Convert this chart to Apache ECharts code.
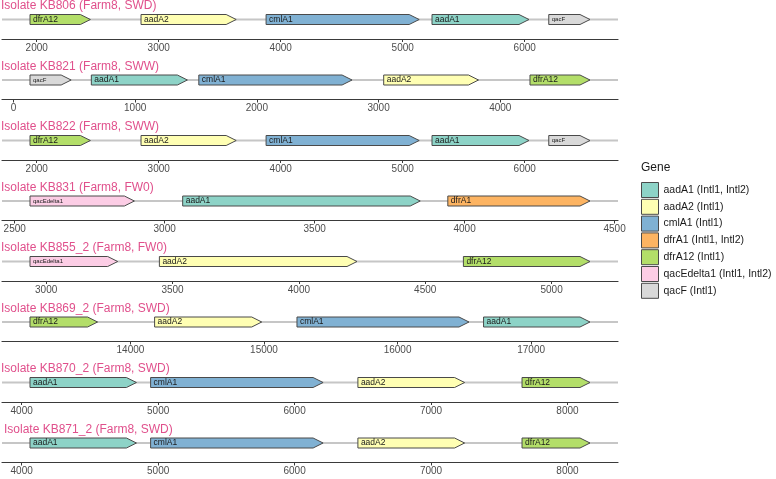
<!DOCTYPE html>
<html>
<head>
<meta charset="utf-8">
<script src="https://cdn.jsdelivr.net/npm/echarts@6/dist/echarts.min.js"></script>
<style>
  html, body { margin: 0; padding: 0; background: #fff; }
  #chart { width: 776px; height: 479px; }
</style>
</head>
<body>
<div id="chart"></div>
<script>
// legend order and labels
const geneOrder = ["aadA1", "aadA2", "cmlA1", "dfrA1", "dfrA12", "qacEdelta1", "qacF"];
const legendLabels = ["aadA1 (Intl1, Intl2)", "aadA2 (Intl1)", "cmlA1 (Intl1)", "dfrA1 (Intl1, Intl2)",
  "dfrA12 (Intl1)", "qacEdelta1 (Intl1, Intl2)", "qacF (Intl1)"];

const isolateTitles = [
  "Isolate KB806 (Farm8, SWD)", "Isolate KB821 (Farm8, SWW)", "Isolate KB822 (Farm8, SWW)",
  "Isolate KB831 (Farm8, FW0)", "Isolate KB855_2 (Farm8, FW0)", "Isolate KB869_2 (Farm8, SWD)",
  "Isolate KB870_2 (Farm8, SWD)", "Isolate KB871_2 (Farm8, SWD)"
];

// genes per isolate: name, start, end (bp)
const kb806Genes = ["dfrA12", "aadA2", "cmlA1", "aadA1", "qacF"];
const kb806Start = [1945, 2855, 3880, 5240, 6197];
const kb806End = [2440, 3635, 5135, 6035, 6535];

const kb821Genes = ["qacF", "aadA1", "cmlA1", "aadA2", "dfrA12"];
const kb821Start = [136, 640, 1523, 3042, 4244];
const kb821End = [474, 1429, 2782, 3821, 4737];

const kb822Genes = ["dfrA12", "aadA2", "cmlA1", "aadA1", "qacF"];
const kb822Start = [1945, 2855, 3880, 5240, 6197];
const kb822End = [2440, 3635, 5135, 6035, 6535];

const kb831Genes = ["qacEdelta1", "aadA1", "dfrA1"];
const kb831Start = [2551, 3060, 3944];
const kb831End = [2899, 3852, 4418];

const kb855Genes = ["qacEdelta1", "aadA2", "dfrA12"];
const kb855Start = [2936, 3448, 4651];
const kb855End = [3283, 4230, 5152];

const kb869Genes = ["dfrA12", "aadA2", "cmlA1", "aadA1"];
const kb869Start = [13248, 14181, 15247, 16644];
const kb869End = [13754, 14983, 16535, 17441];

const kb870Genes = ["aadA1", "cmlA1", "aadA2", "dfrA12"];
const kb870Start = [4061, 4945, 6464, 7667];
const kb870End = [4841, 6209, 7246, 8165];

const kb871Genes = ["aadA1", "cmlA1", "aadA2", "dfrA12"];
const kb871Start = [4061, 4945, 6464, 7667];
const kb871End = [4841, 6209, 7246, 8165];

// x tick labels per panel
const ticks806 = [2000, 3000, 4000, 5000, 6000];
const ticks821 = [0, 1000, 2000, 3000, 4000];
const ticks822 = [2000, 3000, 4000, 5000, 6000];
const ticks831 = [2500, 3000, 3500, 4000, 4500];
const ticks855 = [3000, 3500, 4000, 4500, 5000];
const ticks869 = [14000, 15000, 16000, 17000];
const ticks870 = [4000, 5000, 6000, 7000, 8000];
const ticks871 = [4000, 5000, 6000, 7000, 8000];

const panels = [
  [kb806Genes, kb806Start, kb806End, ticks806],
  [kb821Genes, kb821Start, kb821End, ticks821],
  [kb822Genes, kb822Start, kb822End, ticks822],
  [kb831Genes, kb831Start, kb831End, ticks831],
  [kb855Genes, kb855Start, kb855End, ticks855],
  [kb869Genes, kb869Start, kb869End, ticks869],
  [kb870Genes, kb870Start, kb870End, ticks870],
  [kb871Genes, kb871Start, kb871End, ticks871]
];

const geneColors = {
  aadA1: "#8DD3C7", aadA2: "#FFFFB3", cmlA1: "#80B1D3", dfrA1: "#FDB462",
  dfrA12: "#B3DE69", qacEdelta1: "#FCCDE5", qacF: "#D9D9D9"
};
const smallLabel = { qacEdelta1: true, qacF: true };
const FONT = "'Liberation Sans', Arial, sans-serif";
const STEP = 60.5;

function renderGene(params, api) {
  const s = api.coord([api.value(0), 0]);
  const e = api.coord([api.value(1), 0]);
  const name = geneOrder[api.value(2)];
  const h = 10;
  const head = Math.min(10, e[0] - s[0]);
  const y = s[1];
  return {
    type: "group",
    children: [
      {
        type: "polygon",
        shape: { points: [[s[0], y - h / 2], [e[0] - head, y - h / 2], [e[0], y], [e[0] - head, y + h / 2], [s[0], y + h / 2]] },
        style: { fill: geneColors[name], stroke: "#4a4a4a", lineWidth: 1 }
      },
      {
        type: "text",
        x: s[0] + 3,
        y: y,
        style: {
          text: name, fill: "#1a1a1a", fontFamily: FONT,
          fontSize: smallLabel[name] ? 6 : 8.5,
          align: "left", verticalAlign: "middle"
        }
      }
    ]
  };
}

const grids = [], xAxes = [], yAxes = [], series = [], titles = [];

panels.forEach(function (p, i) {
  const genes = p[0], starts = p[1], ends = p[2], ticks = p[3];
  const lo = Math.min.apply(null, starts), hi = Math.max.apply(null, ends);
  const pad = (hi - lo) * 0.05;
  const xmin = lo - pad, xmax = hi + pad;

  titles.push({
    text: isolateTitles[i],
    left: i === 7 ? 4 : 1,
    top: 0 + STEP * i,
    padding: 0,
    textStyle: { color: "#E0508C", fontSize: 12, fontWeight: "normal", fontFamily: FONT }
  });

  grids.push({ left: 2, right: 158, top: 0 + STEP * i, height: 39 });

  xAxes.push({
    type: "value", gridIndex: i, min: xmin, max: xmax,
    axisLine: { show: true, onZero: false, lineStyle: { color: "#3a3a3a", width: 1.2 } },
    axisTick: { show: true, length: 3, customValues: ticks, lineStyle: { color: "#3a3a3a" } },
    axisLabel: {
      customValues: ticks, color: "#4d4d4d", fontSize: 10, fontFamily: FONT, margin: 4,
      formatter: function (v) { return String(v); }
    },
    splitLine: { show: false }
  });
  yAxes.push({ type: "value", gridIndex: i, min: -1, max: 1, show: false });

  series.push({
    type: "line", xAxisIndex: i, yAxisIndex: i, silent: true, symbol: "none", z: 1,
    lineStyle: { color: "#c6c6c6", width: 2 },
    data: [[xmin, 0], [xmax, 0]]
  });
  series.push({
    type: "custom", xAxisIndex: i, yAxisIndex: i, z: 2, clip: false,
    renderItem: renderGene,
    encode: { x: [0, 1] },
    data: genes.map(function (g, k) { return [starts[k], ends[k], geneOrder.indexOf(g)]; })
  });
});

// legend entries
geneOrder.forEach(function (g, k) {
  series.push({ type: "scatter", name: legendLabels[k], xAxisIndex: 0, yAxisIndex: 0, data: [],
    itemStyle: { color: geneColors[g], borderColor: "#4a4a4a", borderWidth: 1, opacity: 1 } });
});

titles.push({
  text: "Gene", left: 641, top: 162, padding: 0,
  textStyle: { color: "#1a1a1a", fontSize: 12, fontWeight: "normal", fontFamily: FONT }
});

const chart = echarts.init(document.getElementById("chart"), null, { renderer: "canvas" });
chart.setOption({
  animation: false,
  backgroundColor: "#fff",
  title: titles,
  grid: grids,
  xAxis: xAxes,
  yAxis: yAxes,
  legend: {
    orient: "vertical", left: 641, top: 182, padding: 0,
    itemWidth: 17, itemHeight: 15, itemGap: 0.8, selectedMode: false,
    icon: "rect",
    textStyle: { color: "#1a1a1a", fontSize: 10.5, fontFamily: FONT },
    data: geneOrder.map(function (g, k) {
      return { name: legendLabels[k], itemStyle: { color: geneColors[g], borderColor: "#4a4a4a", borderWidth: 1, opacity: 1 } };
    })
  },
  series: series
});
</script>
</body>
</html>
